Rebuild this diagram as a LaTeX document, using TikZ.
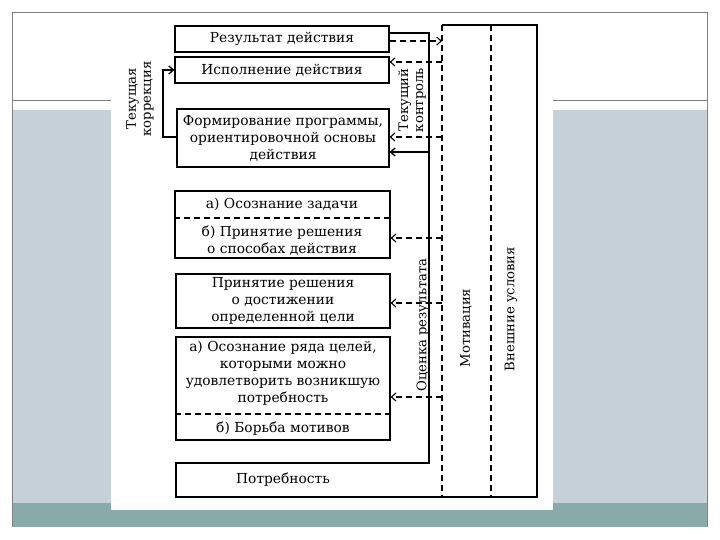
\documentclass[tikz,border=0pt]{standalone}
\usepackage{fontspec}
\setmainfont{DejaVu Serif}
\usetikzlibrary{arrows.meta}
\definecolor{slideblue}{RGB}{197,208,216}
\definecolor{slideteal}{RGB}{138,170,170}
\definecolor{framegrey}{RGB}{128,128,128}
\begin{document}
\begin{tikzpicture}[x=1pt,y=-1pt,
  box/.style={draw, line width=1.3pt, inner sep=0pt, align=center, font=\fontsize{13.8}{17}\selectfont},
  txt/.style={font=\fontsize{13.8}{17}\selectfont, align=center, inner sep=0pt},
  rtxt/.style={font=\fontsize{13.2}{15}\selectfont, align=center, inner sep=0pt, rotate=90},
  dline/.style={dash pattern=on 6pt off 4pt, line width=1.1pt},
  sline/.style={line width=1.3pt},
  tip/.style={-{Straight Barb[length=4.5pt,width=8pt]}}
]
\useasboundingbox (0,0) rectangle (720,540);
\fill[white] (0,0) rectangle (720,540);
\fill[slideblue] (12,110) rectangle (707,503);
\fill[slideteal] (12,503) rectangle (707,527);
\draw[framegrey, line width=0.8pt] (12,527) -- (12,12) -- (707,12) -- (707,527);
\draw[framegrey, line width=0.8pt] (12,100) -- (707,100);
\fill[white] (111,13) rectangle (553,510);

% boxes
\node[box, minimum width=214pt, minimum height=26pt] (res) at (282,39) {Результат действия};
\node[box, minimum width=214pt, minimum height=26pt] (isp) at (282,70) {Исполнение действия};
\node[box, minimum width=212pt, minimum height=58pt] (form) at (283,138) {Формирование программы,\\ориентировочной основы\\действия};
\node[box, minimum width=215pt, minimum height=67pt] (zad) at (282.5,224.5) {};
\node[txt] (zada) at (282,204) {а) Осознание задачи};
\node[txt] (zadb) at (282,241) {б) Принятие решения\\о способах действия};
\node[box, minimum width=214pt, minimum height=54pt] (cel) at (283,301) {Принятие решения\\о достижении\\определенной цели};
\node[box, minimum width=214pt, minimum height=103pt] (mot) at (283,388.5) {};
\node[txt] (mota) at (283,373) {а) Осознание ряда целей,\\которыми можно\\удовлетворить возникшую\\потребность};
\node[txt] (motb) at (283,429) {б) Борьба мотивов};
\node[txt] (potr) at (283,480) {Потребность};

% dividers
\draw[dline] (zad.west |- 0,218) -- (zad.east |- 0,218);
\draw[dline] (mot.west |- 0,414) -- (mot.east |- 0,414);

% outer frame
\coordinate (ftop) at (429,33);
\coordinate (fbot) at (429,463);
\coordinate (rtop) at (442,25);
\coordinate (rbot) at (442,497);
\draw[sline] (res.east |- ftop) -- (ftop) -- (fbot) -- (176,463) -- (176,497) -- (537,497) -- (537,25) -- (rtop);
\draw[dline] (rtop) -- (rbot);
\draw[dline] (491,25) -- (491,497);

% feedback arrows
\draw[dline, tip] (res.east |- 0,41) -- (rtop |- 0,41);
\draw[dline, tip] (rtop |- 0,62) -- (isp.east |- 0,62);
\draw[dline, tip] (rtop |- 0,137) -- (form.east |- 0,137);
\draw[sline, tip] (ftop |- 0,152) -- (form.east |- 0,152);
\draw[sline, tip] (form.west |- 0,137) -- (163,137) -- (163,70) -- (isp.west |- 0,70);
\draw[dline, tip] (rtop |- 0,238) -- (zad.east |- 0,238);
\draw[dline, tip] (rtop |- 0,303) -- (cel.east |- 0,303);
\draw[dline, tip] (rtop |- 0,397) -- (mot.east |- 0,397);

% rotated labels
\node[rtxt] (korr) at (140,99) {Текущая\\коррекция};
\node[rtxt] (kontr) at (412,100) {Текущий\\контроль};
\node[rtxt] (ocenka) at (423,325) {Оценка результата};
\node[rtxt] (motiv) at (466,328) {Мотивация};
\node[rtxt] (vnesh) at (511,309) {Внешние условия};
\end{tikzpicture}
\end{document}
